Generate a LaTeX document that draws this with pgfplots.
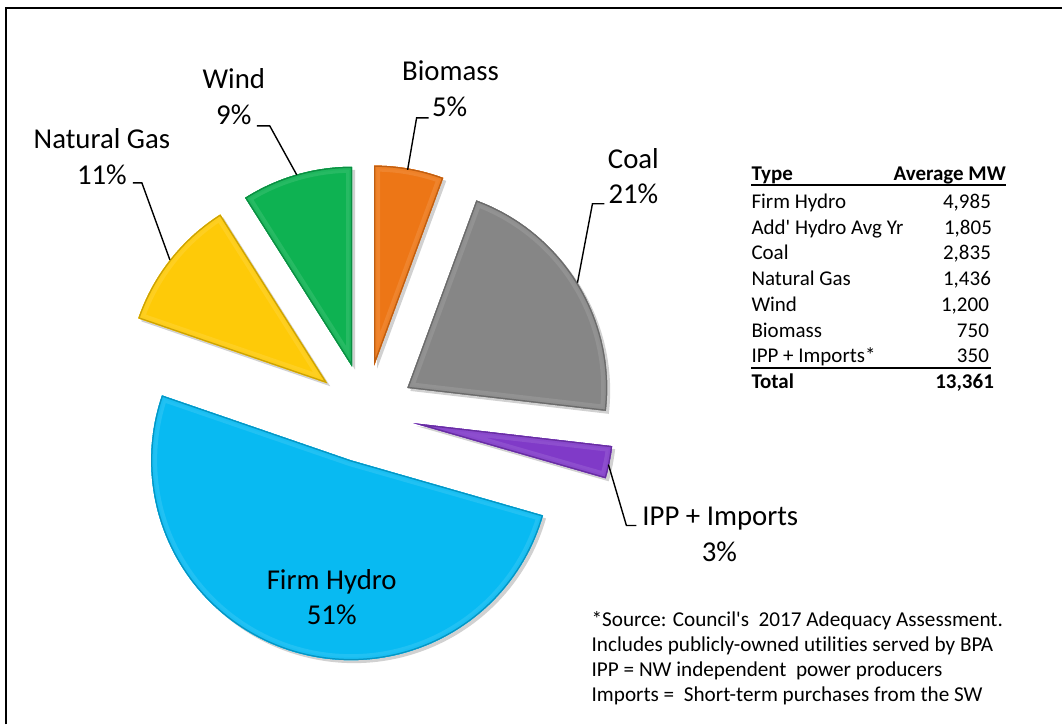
\documentclass[border=0pt]{standalone}
\usepackage{pgfplots}
\pgfplotsset{compat=1.18}
\usepackage{pgfplotstable}
\usepackage{fontspec}
\setmainfont{Carlito}[Ligatures={NoCommon}]

\definecolor{cBio}{RGB}{237,118,22}
\definecolor{cCoal}{RGB}{134,134,134}
\definecolor{cIPP}{RGB}{128,58,200}
\definecolor{cHydro}{RGB}{8,186,242}
\definecolor{cGas}{RGB}{254,202,8}
\definecolor{cWind}{RGB}{14,178,82}

% pie data (average MW); Firm Hydro = 4,985 + 1,805 (Add' Hydro)
\pgfplotstableread{
name mw
Biomass 750
Coal 2835
IPP 350
FirmHydro 6790
NaturalGas 1436
Wind 1200
}\pietable

\newcommand\pieslice[3]{%
  \pgfmathsetmacro\bis{(#2+#3)/2}%
  \coordinate (apex) at ([shift={(\bis:49bp)}]axis cs:366,311);
  \fill[black,opacity=0.18] ([xshift=3bp,yshift=-3bp]apex) -- ++(#2:200bp) arc[start angle=#2,end angle=#3,radius=200bp] -- cycle;
  \begin{scope}
    \clip (apex) -- ++(#2:200bp) arc[start angle=#2,end angle=#3,radius=200bp] -- cycle;
    \fill[#1] (apex) -- ++(#2:200bp) arc[start angle=#2,end angle=#3,radius=200bp] -- cycle;
    \draw[#1!90!white, line width=12bp] (apex) -- ++(#2:200bp) arc[start angle=#2,end angle=#3,radius=200bp] -- cycle;
    \draw[#1!93!white, line width=6bp] (apex) -- ++(#2:200bp) arc[start angle=#2,end angle=#3,radius=200bp] -- cycle;
    \draw[#1!80!black, line width=2.5bp] (apex) -- ++(#2:200bp) arc[start angle=#2,end angle=#3,radius=200bp] -- cycle;
  \end{scope}
}

\begin{document}
\begin{tikzpicture}
\pgfplotstablegetelem{0}{mw}\of\pietable\let\vA\pgfplotsretval
\pgfplotstablegetelem{1}{mw}\of\pietable\let\vB\pgfplotsretval
\pgfplotstablegetelem{2}{mw}\of\pietable\let\vC\pgfplotsretval
\pgfplotstablegetelem{3}{mw}\of\pietable\let\vD\pgfplotsretval
\pgfplotstablegetelem{4}{mw}\of\pietable\let\vE\pgfplotsretval
\pgfplotstablegetelem{5}{mw}\of\pietable\let\vF\pgfplotsretval
\pgfmathsetmacro\tot{\vA+\vB+\vC+\vD+\vE+\vF}
\pgfmathsetmacro\aA{90}
\pgfmathsetmacro\aB{\aA-360*(\vA/\tot)}
\pgfmathsetmacro\aC{\aB-360*(\vB/\tot)}
\pgfmathsetmacro\aD{\aC-360*(\vC/\tot)}
\pgfmathsetmacro\aE{\aD-360*(\vD/\tot)}
\pgfmathsetmacro\aF{\aE-360*(\vE/\tot)}
\pgfmathsetmacro\aG{-270}
\begin{axis}[
  x=1bp, y=1bp,
  xmin=0, xmax=1063, ymin=0, ymax=725,
  hide axis, clip=false,
]
% full-size bounding area
\path (axis cs:0,0) -- (axis cs:1063,725);

\pgfplotsextra{\pieslice{cBio}{\aA}{\aB}}
\pgfplotsextra{\pieslice{cCoal}{\aB}{\aC}}
\pgfplotsextra{\pieslice{cIPP}{\aC}{\aD}}
\pgfplotsextra{\pieslice{cHydro}{\aD}{\aE}}
\pgfplotsextra{\pieslice{cGas}{\aE}{\aF}}
\pgfplotsextra{\pieslice{cWind}{\aF}{\aG}}

% frame
\draw[black, line width=2bp] (axis cs:6.5,0) -- (axis cs:6.5,716.5) -- (axis cs:1063,716.5);

% leader lines
\draw[black, line width=1.4bp] (axis cs:257,599) -- (axis cs:270,599) -- (axis cs:297,550);
\draw[black, line width=1.4bp] (axis cs:133,542) -- (axis cs:142,542) -- (axis cs:170,465);
\draw[black, line width=1.4bp] (axis cs:429,607) -- (axis cs:417,607) -- (axis cs:408,555);
\draw[black, line width=1.4bp] (axis cs:605,521) -- (axis cs:593,521) -- (axis cs:578,442);
\draw[black, line width=1.4bp] (axis cs:609,260) -- (axis cs:627,199) -- (axis cs:637,199);

% pie labels
\begin{scope}[every node/.style={inner sep=0pt, anchor=base, font=\fontsize{28.8bp}{36bp}\selectfont}]
\node at (axis cs:234,636) {Wind};
\node at (axis cs:234,600) {9\%};
\node at (axis cs:102,576) {Natural Gas};
\node at (axis cs:102,540) {11\%};
\node at (axis cs:451,644) {Biomass};
\node at (axis cs:450,608) {5\%};
\node at (axis cs:634,556) {Coal};
\node at (axis cs:634,521) {21\%};
\node at (axis cs:721,199) {IPP + Imports};
\node at (axis cs:720,163) {3\%};
\node at (axis cs:332,135) {Firm Hydro};
\node at (axis cs:332,100) {51\%};
\end{scope}

% table
\begin{scope}[every node/.style={inner sep=0pt, font=\fontsize{21bp}{26bp}\selectfont}]
\node[anchor=base west] at (axis cs:752,544) {\bfseries Type};
\node[anchor=base east] at (axis cs:1007,544) {\bfseries Average MW};
\node[anchor=base west] at (axis cs:752,516) {Firm Hydro};
\node[anchor=base east] at (axis cs:992,516) {4,985};
\node[anchor=base west] at (axis cs:752,490) {Add\textquotesingle{} Hydro Avg Yr};
\node[anchor=base east] at (axis cs:993,490) {1,805};
\node[anchor=base west] at (axis cs:752,465) {Coal};
\node[anchor=base east] at (axis cs:992,465) {2,835};
\node[anchor=base west] at (axis cs:752,439) {Natural Gas};
\node[anchor=base east] at (axis cs:992,439) {1,436};
\node[anchor=base west] at (axis cs:752,413) {Wind};
\node[anchor=base east] at (axis cs:990,413) {1,200};
\node[anchor=base west] at (axis cs:752,387) {Biomass};
\node[anchor=base east] at (axis cs:990,387) {750};
\node[anchor=base west] at (axis cs:752,362) {IPP + Imports*};
\node[anchor=base east] at (axis cs:990,362) {350};
\node[anchor=base west] at (axis cs:752,336) {\bfseries Total};
\node[anchor=base east] at (axis cs:995,336) {\bfseries 13,361};
\end{scope}
\draw[black, line width=2.5bp] (axis cs:752,540) -- (axis cs:1007,540);
\draw[black, line width=2bp] (axis cs:752,357) -- (axis cs:992,357);

% notes
\begin{scope}[every node/.style={inner sep=0pt, anchor=base west, font=\fontsize{21.2bp}{26bp}\selectfont}]
\node at (axis cs:592,98.3) {*Source: Council\textquotesingle{}s\ \ 2017 Adequacy Assessment.};
\node at (axis cs:592,73.3) {Includes publicly-owned utilities served by BPA};
\node at (axis cs:592,48.3) {IPP = NW independent\ \ power producers};
\node at (axis cs:592,23.3) {Imports =\ \ Short-term purchases from the SW};
\end{scope}
\end{axis}
\end{tikzpicture}
\end{document}
